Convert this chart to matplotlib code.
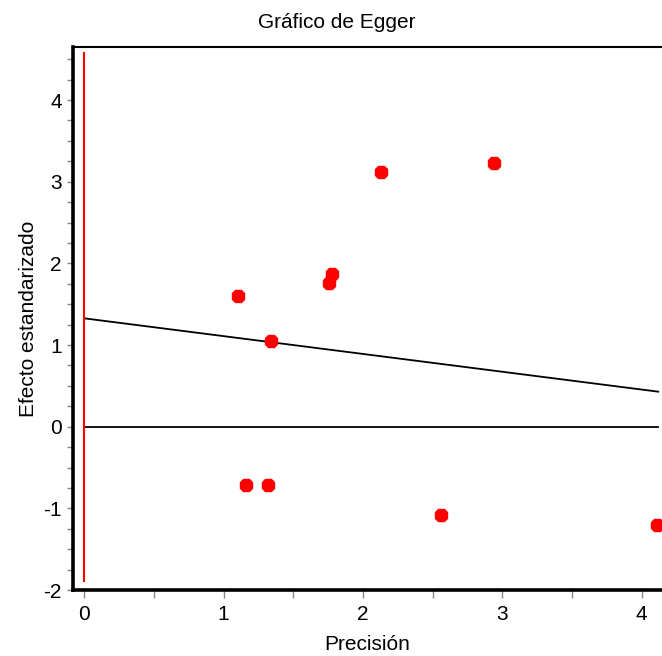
import matplotlib
matplotlib.use("Agg")
import matplotlib.pyplot as plt
import numpy as np
from matplotlib.ticker import MultipleLocator

# estudios: precision (1/SE) y efecto estandarizado
precision = [1.105, 1.342, 1.76, 1.778, 2.128, 2.943, 1.163, 1.317, 2.563, 4.113]
efecto = [1.60, 1.05, 1.765, 1.87, 3.12, 3.23, -0.72, -0.72, -1.08, -1.20]

# recta de regresion de Egger
intercepto = 1.327
pendiente = -0.218
x_recta = [0.0, 4.12]

# linea vertical roja en precision 0
red_y = [-1.89, 4.58]

plt.rcParams['font.family'] = ['Liberation Sans', 'DejaVu Sans']
plt.rcParams['axes.unicode_minus'] = False

fig = plt.figure(figsize=(6.62, 6.56), dpi=100)
ax = fig.add_axes([73 / 662, 66 / 656, (662 - 73) / 662, (590 - 47) / 656])

xr = np.array(x_recta)
ax.plot(xr, intercepto + pendiente * xr, color='black', lw=1.3)
ax.plot(x_recta, [0, 0], color='black', lw=1.3)
ax.plot([0, 0], red_y, color='red', lw=1.5)
ax.plot(precision, efecto, linestyle='none', marker='8', markersize=9.5,
        color='red', markeredgecolor='red')

ax.set_xlim(-0.081, 4.147)
ax.set_ylim(-2.0, 4.65)

ax.xaxis.set_major_locator(MultipleLocator(1))
ax.xaxis.set_minor_locator(MultipleLocator(0.5))
ax.yaxis.set_major_locator(MultipleLocator(1))
ax.yaxis.set_minor_locator(MultipleLocator(0.25))

ax.tick_params(axis='both', which='both', direction='out', color='#888888',
               labelsize=15, width=1)
ax.tick_params(axis='x', which='both', length=6, pad=5)
ax.tick_params(axis='y', which='both', length=4, pad=4)

ax.spines['right'].set_visible(False)
ax.spines['left'].set_linewidth(2.6)
ax.spines['bottom'].set_linewidth(2.6)
ax.spines['top'].set_linewidth(1.5)

ax.set_xlabel('Precisión', fontsize=15, labelpad=8)
ax.set_ylabel('Efecto estandarizado', fontsize=15, labelpad=4)
fig.text(337 / 662, 1 - 22 / 656, 'Gráfico de Egger', ha='center', va='center',
         fontsize=15)

fig.savefig('out.png', dpi=100)
